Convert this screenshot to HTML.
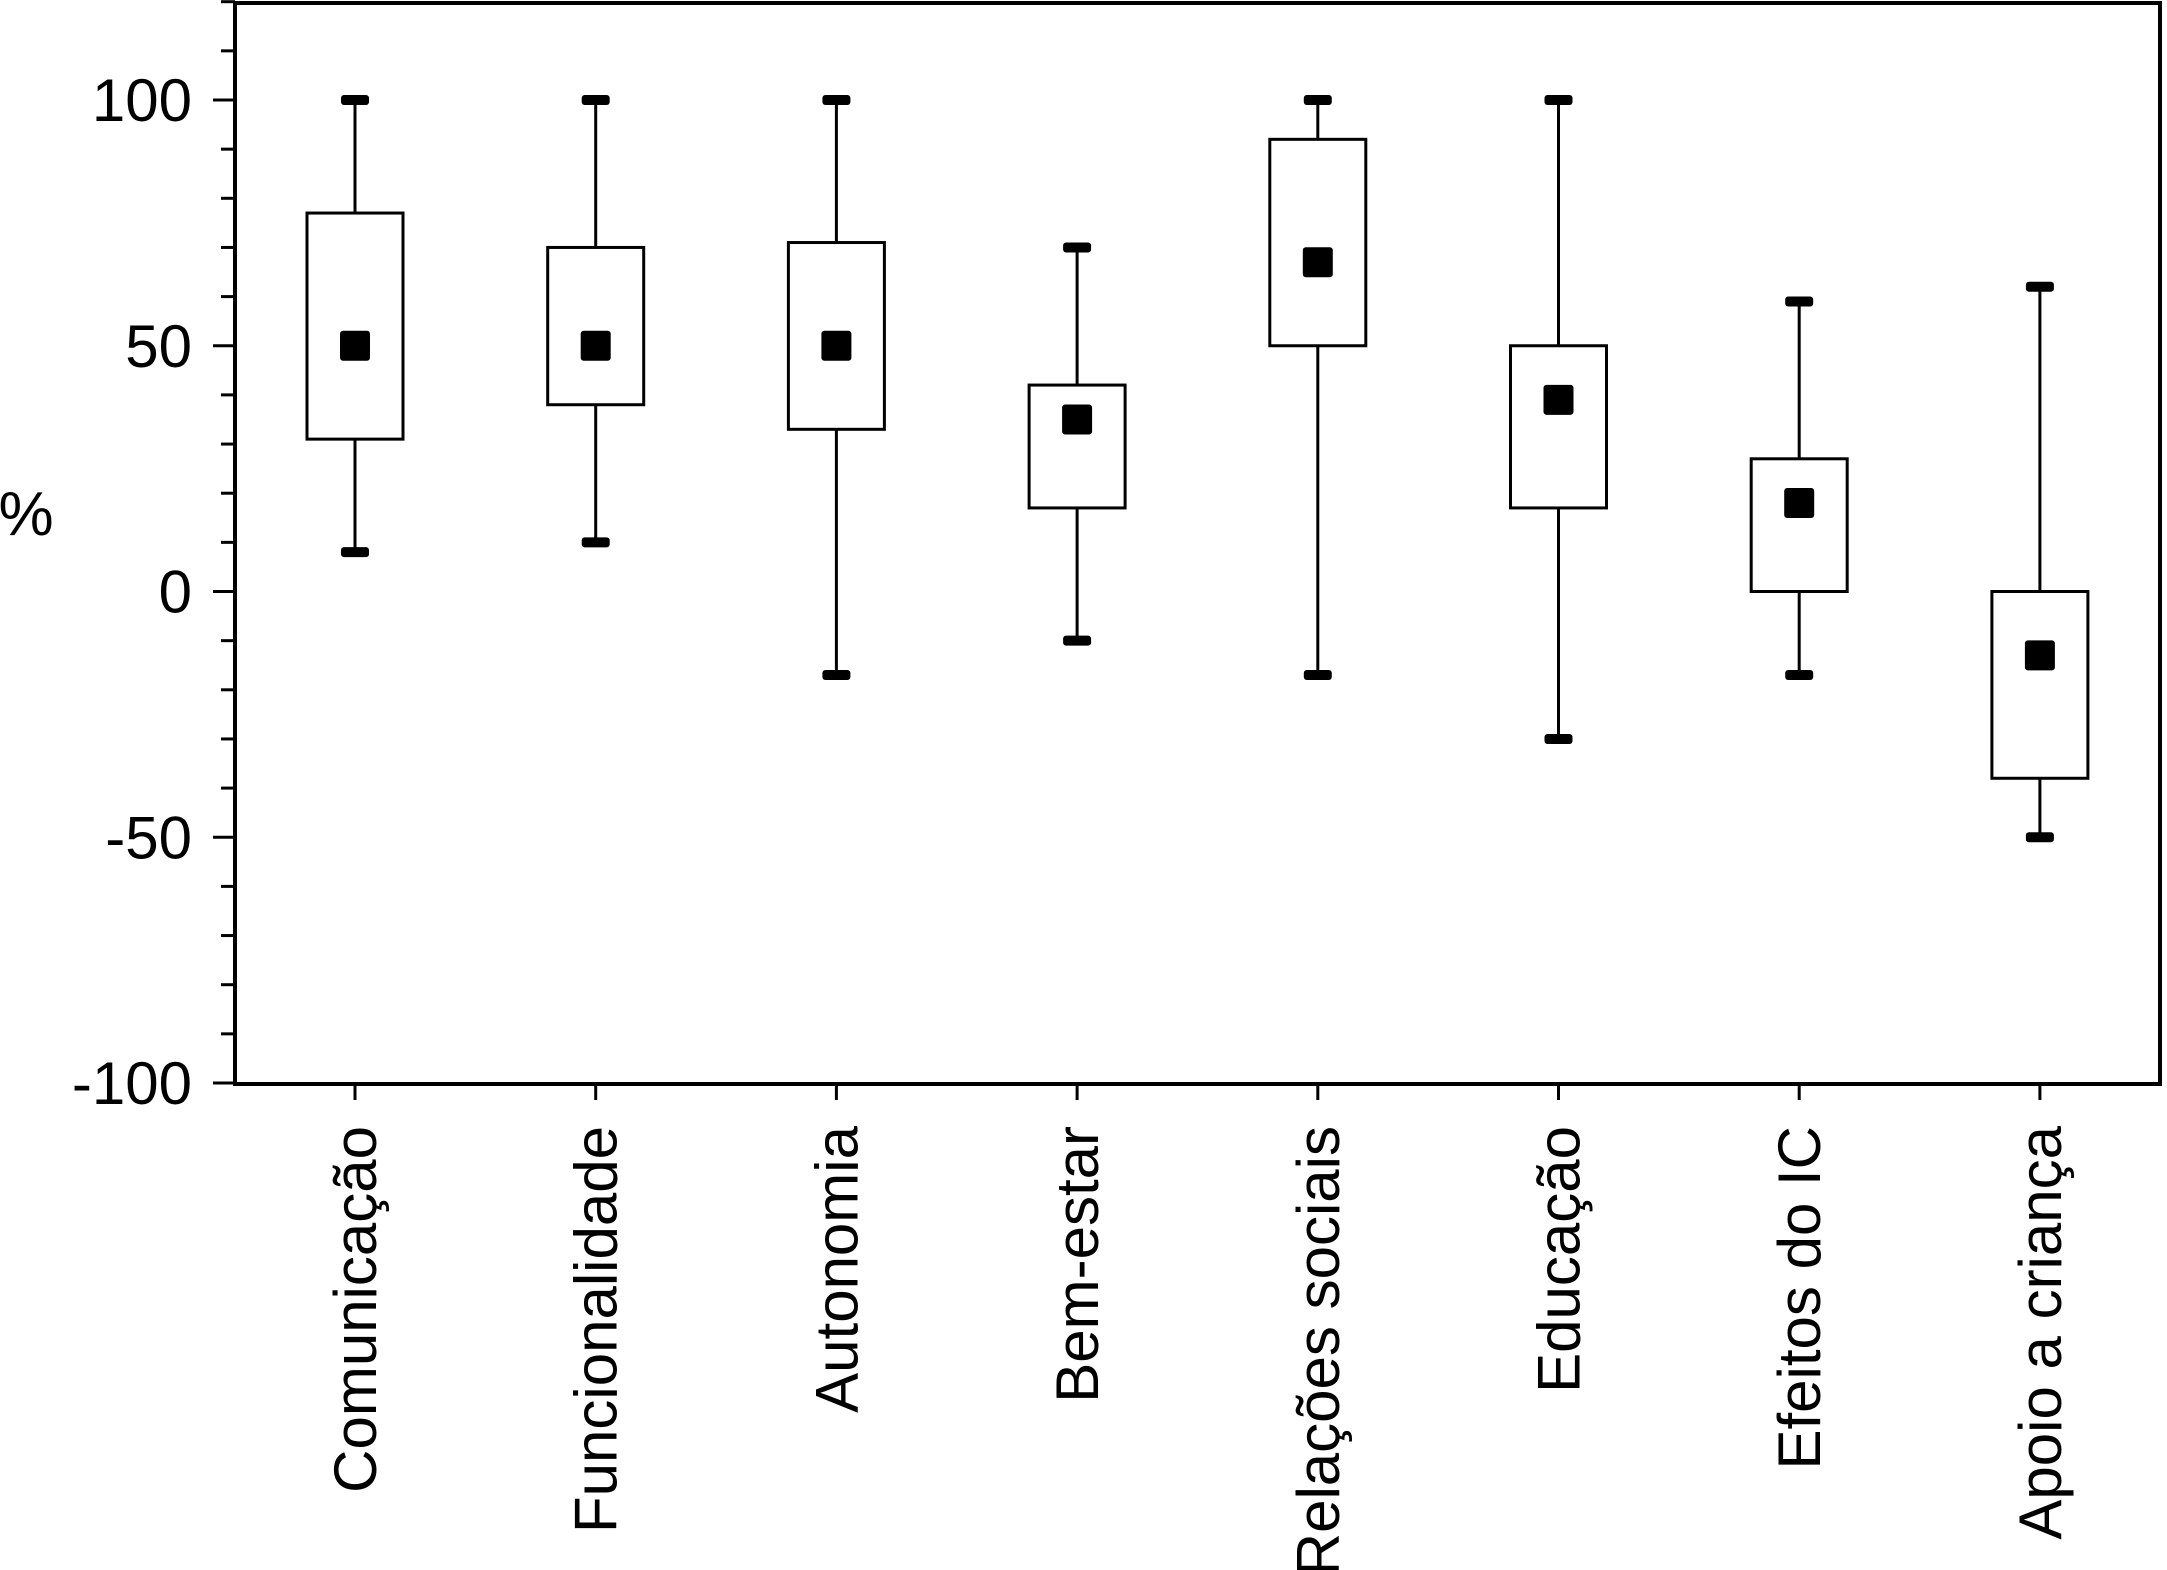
<!DOCTYPE html>
<html><head><meta charset="utf-8"><style>
html,body{margin:0;padding:0;background:#fff;}
svg{display:block;font-family:"Liberation Sans",Arial,sans-serif;}
</style></head><body>
<svg id="chart" width="2167" height="1570" viewBox="0 0 2167 1570" xmlns="http://www.w3.org/2000/svg">
<g id="g"></g>
</svg>
<script>
const categories=["Comunicação","Funcionalidade","Autonomia","Bem-estar","Relações sociais","Educação","Efeitos do IC","Apoio a criança"];
const minVals=[8,10,-17,-10,-17,-30,-17,-50];
const q1Vals=[31,38,33,17,50,17,0,-38];
const medVals=[50,50,50,35,67,39,18,-13];
const q3Vals=[77,70,71,42,92,50,27,0];
const maxVals=[100,100,100,70,100,100,59,62];
const yTickLabels=[100,50,0,-50,-100];

const L=235,R=2160,T=3,B=1084;
const y=v=>591.5-v*4.915;
const x=i=>355+i*240.7;
const g=document.getElementById('g');
const NS="http://www.w3.org/2000/svg";
function mk(t,a,name){const e=document.createElementNS(NS,t);for(const k in a)e.setAttribute(k,a[k]);


g.appendChild(e);return e;}

mk('rect',{x:L,y:T,width:R-L,height:B-T,fill:'none',stroke:'#000','stroke-width':4},'plot-frame');
for(let v=-100;v<=120;v+=10){
  const big=v%50===0;
  mk('line',{x1:big?L-22:L-14,x2:L,y1:y(v),y2:y(v),stroke:'#000','stroke-width':3},'y-tick');
}
yTickLabels.forEach(v=>{const t=mk('text',{x:192,y:y(v)+21,'text-anchor':'end','font-size':60},'y-tick-label');t.textContent=v;});
const yt=mk('text',{x:26,y:535,'text-anchor':'middle','font-size':62},'y-axis-title');yt.textContent='%';

categories.forEach((c,i)=>{
  const cx=x(i);
  mk('line',{x1:cx,x2:cx,y1:B,y2:B+16,stroke:'#000','stroke-width':3},'x-tick');
  mk('line',{x1:cx,x2:cx,y1:y(maxVals[i]),y2:y(minVals[i]),stroke:'#000','stroke-width':3},'whisker');
  mk('rect',{x:cx-14,y:y(maxVals[i])-5,width:28,height:10,fill:'#000',rx:3},'whisker-cap-max');
  mk('rect',{x:cx-14,y:y(minVals[i])-5,width:28,height:10,fill:'#000',rx:3},'whisker-cap-min');
  mk('rect',{x:cx-48,y:y(q3Vals[i]),width:96,height:y(q1Vals[i])-y(q3Vals[i]),fill:'#fff',stroke:'#000','stroke-width':3},'box-'+i);
  mk('rect',{x:cx-15,y:y(medVals[i])-15,width:30,height:30,fill:'#000',rx:3},'median-marker');
  const t=mk('text',{x:0,y:0,'text-anchor':'end','font-size':60,transform:`translate(${cx+21},1126) rotate(-90)`},'x-category-label');
  t.textContent=c;
});
</script>
</body></html>
